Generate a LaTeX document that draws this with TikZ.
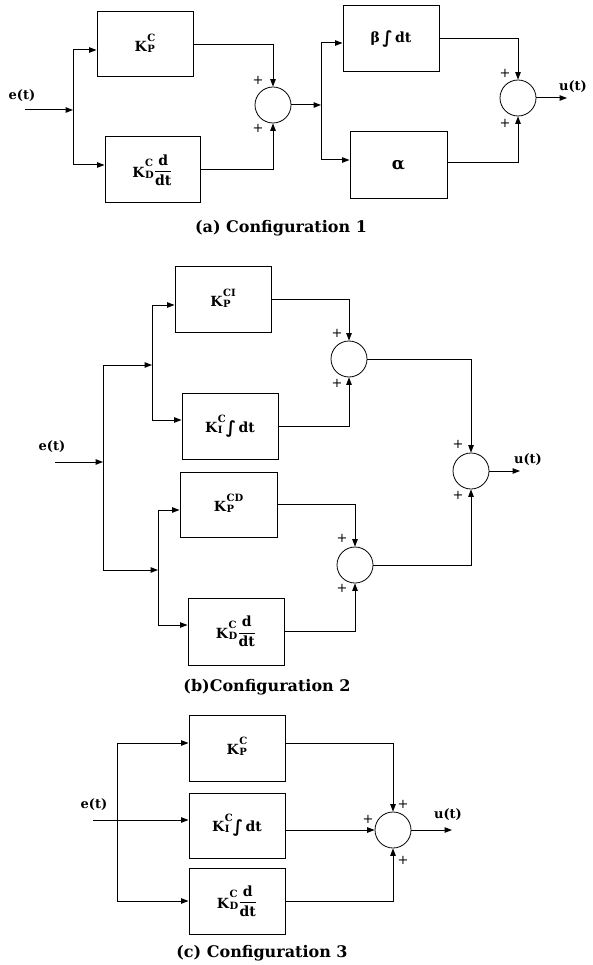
\documentclass[tikz,border=0pt]{standalone}
\usepackage{fontspec}
\setmainfont{DejaVu Serif}
\newfontfamily\djs{DejaVu Sans}
\usetikzlibrary{arrows.meta}
\newcommand{\bxf}{\fontsize{14}{16}\selectfont\bfseries}
\newcommand{\smf}{\fontsize{10}{10}\selectfont\bfseries}
\newcommand{\KSS}[2]{K\kern0.6pt\raisebox{-1pt}{\smf\begin{tabular}[b]{@{}l@{}}#1\\[1pt]#2\end{tabular}}}
\newcommand{\ddt}{\raisebox{2pt}{$\displaystyle\frac{\hbox{\bxf d}}{\hbox{\bxf dt}}$}}
\newcommand{\intg}{\raisebox{-1pt}{\djs\fontsize{17}{17}\selectfont ∫}}
\begin{document}
\begin{tikzpicture}[x=1pt,y=-1pt,
  line width=1pt,
  >={Triangle[length=7.5pt,width=5.5pt]},
  blk/.style={draw, line width=1pt, inner sep=0pt, font=\bxf},
  sumn/.style={draw, circle, line width=0.8pt, minimum size=36pt, inner sep=0pt},
  pl/.style={font=\fontsize{13}{13}\selectfont, inner sep=0pt},
  lab/.style={font=\fontsize{13}{13}\selectfont\bfseries, inner sep=0pt},
  captxt/.style={font=\fontsize{16}{16}\selectfont\bfseries, inner sep=0pt}]
\useasboundingbox[fill=white] (0,0) rectangle (592,965);

% ---------- Configuration 1 ----------
\node[lab] (et1) at (22,96) {e(t)};
\coordinate (in1) at (25,110);
\coordinate (j1) at (73,110);
\node[blk, minimum width=96pt, minimum height=65pt] (a1) at (145,44.5) {\KSS{C}{P}};
\node[blk, minimum width=95pt, minimum height=66pt] (a2) at (152.5,170) {\KSS{C}{D}\ddt};
\node[sumn] (s1) at (273,105) {};
\coordinate (j2) at (321,105);
\node[blk, minimum width=96pt, minimum height=66pt] (b1) at (391,39) {β\,\intg\,dt};
\node[blk, minimum width=97pt, minimum height=67pt] (b2) at (398.5,165.5) {\fontsize{17}{17}\selectfont α};
\node[sumn] (s2) at (518,98) {};
\coordinate (out1) at (567,98);
\node[lab] (ut1) at (573,87) {u(t)};
\node[pl] (p1) at (258,80) {+};
\node[pl] (p2) at (258,128) {+};
\node[pl] (p3) at (505,73) {+};
\node[pl] (p4) at (505,123) {+};

\draw[->] (in1) -- (j1);
\draw[->] (j1) |- ([yshift=-5.5pt]a1.west);
\draw[->] (j1) |- ([yshift=5pt]a2.west);
\draw[->] (a1.east) -| (s1.north);
\draw[->] (a2.east) -| (s1.south);
\draw[->] (s1.east) -- (j2);
\draw[->] (j2) |- ([yshift=-4pt]b1.west);
\draw[->] (j2) |- ([yshift=5.5pt]b2.west);
\draw[->] (b1.east) -| (s2.north);
\draw[->] ([yshift=2.5pt]b2.east) -| (s2.south);
\draw[->] (s2.east) -- (out1);
\node[captxt] (capa) at (281,228) {(a) Configuration 1};

% ---------- Configuration 2 ----------
\node[lab] (et2) at (52,447) {e(t)};
\coordinate (in2) at (55,462);
\coordinate (j3) at (103,462);
\coordinate (j4) at (152,365);
\coordinate (j5) at (158,570);
\node[blk, minimum width=96pt, minimum height=65pt] (c1) at (223,299.5) {\KSS{CI}{P}};
\node[blk, minimum width=96pt, minimum height=66pt] (c2) at (230,426) {\KSS{C}{I}\intg\,dt};
\node[blk, minimum width=97pt, minimum height=65pt] (c3) at (228.5,504.5) {\KSS{CD}{P}};
\node[blk, minimum width=96pt, minimum height=67pt] (c4) at (236,631.5) {\KSS{C}{D}\ddt};
\node[sumn] (s3) at (349,359) {};
\node[sumn] (s4) at (355,565) {};
\node[sumn] (s5) at (471,471) {};
\coordinate (out2) at (520,471);
\node[lab] (ut2) at (528,460) {u(t)};
\node[pl] (p5) at (337,333) {+};
\node[pl] (p6) at (337,383) {+};
\node[pl] (p7) at (458,444) {+};
\node[pl] (p8) at (458,495) {+};
\node[pl] (p9) at (342,538) {+};
\node[pl] (p10) at (342,588) {+};

\draw[->] (in2) -- (j3);
\draw[->] (j3) |- (j4);
\draw[->] (j3) |- (j5);
\draw[->] (j4) |- ([yshift=-5.5pt]c1.west);
\draw[->] (j4) |- ([yshift=6pt]c2.west);
\draw[->] (j5) |- ([yshift=-5.5pt]c3.west);
\draw[->] (j5) |- ([yshift=6.5pt]c4.west);
\draw[->] (c1.east) -| (s3.north);
\draw[->] (c2.east) -| (s3.south);
\draw[->] (c3.east) -| (s4.north);
\draw[->] (c4.east) -| (s4.south);
\draw[->] (s3.east) -| (s5.north);
\draw[->] (s4.east) -| (s5.south);
\draw[->] (s5.east) -- (out2);
\node[captxt] (capb) at (267,687) {(b)Configuration 2};

% ---------- Configuration 3 ----------
\node[lab] (et3) at (94,805) {e(t)};
\coordinate (in3) at (93,820);
\coordinate (j6) at (117,820);
\node[blk, minimum width=96pt, minimum height=66pt] (d1) at (237,748) {\KSS{C}{P}};
\node[blk, minimum width=96pt, minimum height=65pt] (d2) at (237,825.5) {\KSS{C}{I}\intg\,dt};
\node[blk, minimum width=96pt, minimum height=66pt] (d3) at (237,901) {\KSS{C}{D}\ddt};
\node[sumn] (s6) at (393,830) {};
\coordinate (out3) at (452,830);
\node[lab] (ut3) at (448,815) {u(t)};
\node[pl] (p11) at (403,804) {+};
\node[pl] (p12) at (368,819) {+};
\node[pl] (p13) at (403,860) {+};

\draw[->] (in3) -- ([yshift=5.5pt]d2.west);
\draw[->] (j6) |- ([yshift=5pt]d1.west);
\draw[->] (j6) |- (d3.west);
\draw[->] ([yshift=5pt]d1.east) -| (s6.north);
\draw[->] (d2.east |- s6.west) -- (s6.west);
\draw[->] (d3.east) -| (s6.south);
\draw[->] (s6.east) -- (out3);
\node[captxt] (capc) at (262,953) {(c) Configuration 3};
\end{tikzpicture}
\end{document}
